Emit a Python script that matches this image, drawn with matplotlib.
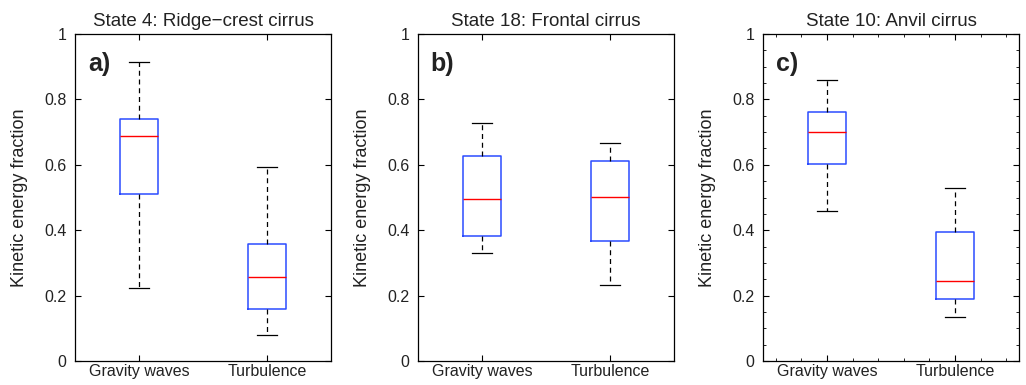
import matplotlib
matplotlib.use("Agg")
import matplotlib.pyplot as plt
from matplotlib.ticker import MultipleLocator

plt.rcParams['font.family'] = ['Liberation Sans', 'DejaVu Sans']

categories = ["Gravity waves", "Turbulence"]
titles = ["State 4: Ridge\u2212crest cirrus", "State 18: Frontal cirrus", "State 10: Anvil cirrus"]
letters = ["a)", "b)", "c)"]

# per panel: [gravity waves, turbulence] -> (whislo, q1, med, q3, whishi)
panel_a = [(0.222, 0.510, 0.687, 0.740, 0.914), (0.081, 0.158, 0.258, 0.357, 0.594)]
panel_b = [(0.329, 0.382, 0.494, 0.628, 0.727), (0.232, 0.367, 0.503, 0.613, 0.668)]
panel_c = [(0.458, 0.603, 0.701, 0.762, 0.858), (0.134, 0.189, 0.246, 0.395, 0.529)]
panels = [panel_a, panel_b, panel_c]

fig = plt.figure(figsize=(10.26, 3.85), dpi=100)
W, H = 1026, 385
lefts = [75, 418, 763]
axw = 256
top, bottom = 34, 361

for i, data in enumerate(panels):
    ax = fig.add_axes([lefts[i] / W, 1 - bottom / H, axw / W, (bottom - top) / H])
    stats = []
    for lab, (lo, q1, med, q3, hi) in zip(categories, data):
        stats.append(dict(label=lab, whislo=lo, q1=q1, med=med, q3=q3, whishi=hi, fliers=[]))
    ax.bxp(stats, positions=[1, 2], widths=0.3, capwidths=0.15, showfliers=False,
           boxprops=dict(color='#2b4cff', linewidth=1.1),
           medianprops=dict(color='#ff0000', linewidth=1.0),
           whiskerprops=dict(color='black', linestyle=(0, (4, 3)), linewidth=0.9),
           capprops=dict(color='black', linewidth=0.9))
    ax.set_xlim(0.5, 2.5)
    ax.set_ylim(0, 1)
    ax.set_yticks([0, 0.2, 0.4, 0.6, 0.8, 1])
    ax.set_yticklabels(["0", "0.2", "0.4", "0.6", "0.8", "1"])
    ax.set_xticks([1, 2])
    ax.set_xticklabels(categories)
    ax.tick_params(direction='in', top=True, right=True, labelsize=11.5, length=4,
                   width=0.8, colors='black', labelcolor='#222222')
    ax.tick_params(axis='y', pad=6)
    ax.tick_params(axis='x', pad=2)
    if i == 2:
        ax.yaxis.set_minor_locator(MultipleLocator(0.05))
        ax.xaxis.set_minor_locator(MultipleLocator(0.2))
        ax.tick_params(which='minor', direction='in', top=True, right=True, length=2, width=0.6)
    for sp in ax.spines.values():
        sp.set_linewidth(0.9)
    ax.set_title(titles[i], fontsize=13.5, color='#222222', pad=6)
    ax.set_ylabel("Kinetic energy fraction", fontsize=13, color='#222222')
    ax.yaxis.set_label_coords(-0.184, 0.5)
    ax.text(0.05, 0.945, letters[i], transform=ax.transAxes, fontsize=18,
            fontweight='bold', va='top', ha='left', color='#222222')

fig.savefig("out.png", dpi=100)
